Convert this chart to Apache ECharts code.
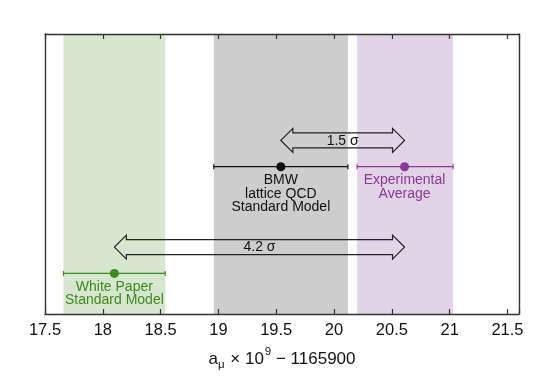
<!DOCTYPE html>
<html>
<head>
<meta charset="utf-8">
<script src="https://cdn.jsdelivr.net/npm/echarts@6/dist/echarts.min.js"></script>
<style>
html,body{margin:0;padding:0;background:#fff;}
#chart{width:550px;height:380px;}
</style>
</head>
<body>
<div id="chart"></div>
<script>
// ---- data ----
const xMin = 17.5, xMax = 21.6, xInterval = 0.5;
const yMin = 0, yMax = 10;
const names = ['White Paper\nStandard Model', 'BMW\nlattice QCD\nStandard Model', 'Experimental\nAverage'];
const centers = [18.10, 19.54, 20.61];
const bandLow = [17.66, 18.96, 20.20];
const bandHigh = [18.54, 20.12, 21.03];
const rowY = [1.45, 5.26, 5.26];
const bandColors = ['#d6e6cf', '#cdcdcd', '#e2d3e7'];
const markColors = ['#3f8a1f', '#111111', '#8b3993'];
const arrowFrom = [19.54, 18.10];
const arrowTo = [20.61, 20.61];
const arrowY = [6.2, 2.39];
const arrowLabels = ['1.5 σ', '4.2 σ'];

const FONT = "'Liberation Sans', Arial, Helvetica, sans-serif";

const bandData = bandLow.map((l, i) => [l, bandHigh[i], i]);
const barData = centers.map((c, i) => [c, rowY[i], bandLow[i], bandHigh[i], i]);
const arrowData = arrowFrom.map((f, i) => [f, arrowTo[i], arrowY[i], i]);

const chart = echarts.init(document.getElementById('chart'), null, {renderer: 'canvas'});

const frameLine = {show: true, onZero: false, lineStyle: {color: '#333', width: 1.4}};

const option = {
  backgroundColor: '#ffffff',
  animation: false,
  grid: {left: 45, right: 31, top: 34, bottom: 66, show: false},
  xAxis: [{
    type: 'value', min: xMin, max: xMax, interval: xInterval, position: 'bottom', z: 10,
    axisLine: frameLine,
    axisTick: {show: true, inside: true, length: 5, lineStyle: {color: '#333', width: 1.2}},
    splitLine: {show: false},
    axisLabel: {
      show: true, margin: 8, color: '#111', fontSize: 16.5, fontFamily: FONT,
      formatter: v => (Math.abs(v / xInterval - Math.round(v / xInterval)) < 1e-6 && v <= 21.5 + 1e-6) ? String(+v.toFixed(1)) : ''
    },
    name: '{t|a}{sub|μ}{t| × 10}{sup|9}{t| − 1165900}',
    nameLocation: 'middle', nameGap: 32,
    nameTextStyle: {
      fontFamily: FONT, color: '#111',
      rich: {
        t: {fontSize: 17, fontFamily: FONT, color: '#111', lineHeight: 22, verticalAlign: 'bottom'},
        sub: {fontSize: 11.5, fontFamily: FONT, color: '#111', lineHeight: 11, verticalAlign: 'bottom', padding: [0, 1, -3, 0]},
        sup: {fontSize: 11.5, fontFamily: FONT, color: '#111', lineHeight: 11, verticalAlign: 'top', padding: [0, 0, 0, 1]}
      }
    }
  }, {
    type: 'value', min: xMin, max: xMax, interval: xInterval, position: 'top', z: 10,
    axisLine: frameLine,
    axisTick: {show: true, inside: true, length: 5, lineStyle: {color: '#333', width: 1.2}},
    splitLine: {show: false},
    axisLabel: {show: false}
  }],
  yAxis: [{
    type: 'value', min: yMin, max: yMax, position: 'left', z: 10,
    axisLine: frameLine, axisTick: {show: false}, axisLabel: {show: false}, splitLine: {show: false}
  }, {
    type: 'value', min: yMin, max: yMax, position: 'right', z: 10,
    axisLine: frameLine, axisTick: {show: false}, axisLabel: {show: false}, splitLine: {show: false}
  }],
  series: [
    {
      type: 'custom', name: 'bands', xAxisIndex: 0, yAxisIndex: 0, z: 1,
      data: bandData,
      renderItem: function (params, api) {
        const p1 = api.coord([api.value(0), yMax]);
        const p2 = api.coord([api.value(1), yMin]);
        const i = api.value(2);
        return {
          type: 'rect',
          shape: {x: p1[0], y: p1[1], width: p2[0] - p1[0], height: p2[1] - p1[1]},
          style: {fill: bandColors[i]}
        };
      }
    },
    {
      type: 'custom', name: 'arrows', xAxisIndex: 0, yAxisIndex: 0, z: 3,
      data: arrowData,
      renderItem: function (params, api) {
        const a = api.coord([api.value(0), api.value(2)]);
        const b = api.coord([api.value(1), api.value(2)]);
        const i = api.value(3);
        const y = a[1], x1 = a[0], x2 = b[0];
        const hh = 12, sh = 7.5, hl = 12;
        const pts = [
          [x1, y], [x1 + hl, y - hh], [x1 + hl, y - sh], [x2 - hl, y - sh], [x2 - hl, y - hh],
          [x2, y], [x2 - hl, y + hh], [x2 - hl, y + sh], [x1 + hl, y + sh], [x1 + hl, y + hh]
        ];
        return {
          type: 'group',
          children: [
            {type: 'polygon', shape: {points: pts}, style: {fill: 'none', stroke: '#222', lineWidth: 1.2}},
            {type: 'text', style: {x: (x1 + x2) / 2, y: y + 0.5, text: arrowLabels[i], align: 'center', verticalAlign: 'middle',
              fontSize: 14, fontFamily: FONT, fill: '#111'}}
          ]
        };
      }
    },
    {
      type: 'custom', name: 'bars', xAxisIndex: 0, yAxisIndex: 0, z: 4,
      data: barData,
      renderItem: function (params, api) {
        const c = api.coord([api.value(0), api.value(1)]);
        const l = api.coord([api.value(2), api.value(1)]);
        const h = api.coord([api.value(3), api.value(1)]);
        const i = api.value(4);
        const col = markColors[i];
        return {
          type: 'group',
          children: [
            {type: 'line', shape: {x1: l[0], y1: c[1], x2: h[0], y2: c[1]}, style: {stroke: col, lineWidth: 1.2}},
            {type: 'line', shape: {x1: l[0], y1: c[1] - 2.5, x2: l[0], y2: c[1] + 2.5}, style: {stroke: col, lineWidth: 1.2}},
            {type: 'line', shape: {x1: h[0], y1: c[1] - 2.5, x2: h[0], y2: c[1] + 2.5}, style: {stroke: col, lineWidth: 1.2}},
            {type: 'circle', shape: {cx: c[0], cy: c[1], r: 4.5}, style: {fill: col}},
            {type: 'text', style: {x: c[0], y: c[1] + 7, text: names[i], align: 'center', verticalAlign: 'top',
              fontSize: 14, lineHeight: 13.4, fontFamily: FONT, fill: col}}
          ]
        };
      }
    }
  ]
};
chart.setOption(option);
</script>
</body>
</html>
